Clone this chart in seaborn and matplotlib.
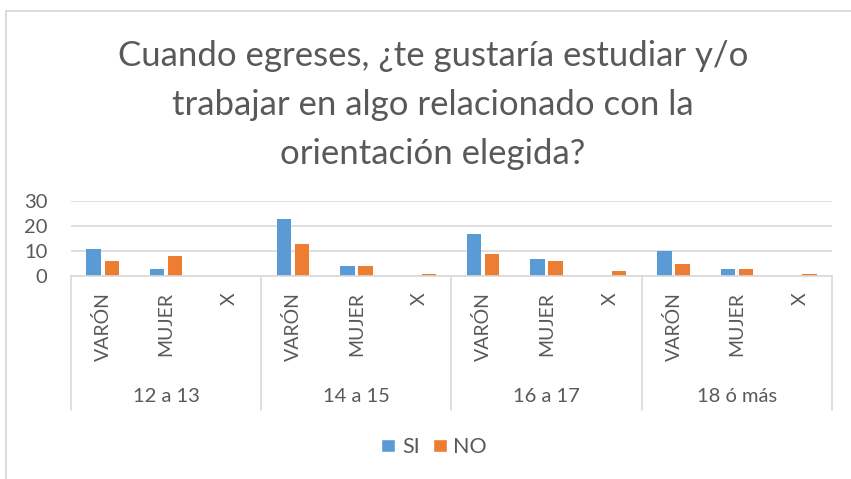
import pandas as pd
import matplotlib.pyplot as plt
import seaborn as sns
from matplotlib.patches import Rectangle, Patch
from matplotlib.lines import Line2D

# Data
edades = ['12 a 13', '14 a 15', '16 a 17', '18 ó más']
sexos = ['VARÓN', 'MUJER', 'X']
si = [11, 3, 0, 23, 4, 0, 17, 7, 0, 10, 3, 0]
no = [6, 8, 0, 13, 4, 1, 9, 6, 2, 5, 3, 1]
respuestas = ['SI', 'NO']
yticks = [0, 10, 20, 30]
titulo = 'Cuando egreses, ¿te gustaría estudiar y/o\ntrabajar en algo relacionado con la\norientación elegida?'

colors = {'SI': '#5B9BD5', 'NO': '#ED7D31'}
text_color = '#595959'
line_color = '#D9D9D9'

# Long form table
cats = [f'{e}|{s}' for e in edades for s in sexos]
df = pd.concat([
    pd.DataFrame({'cat': cats, 'valor': si, 'resp': 'SI'}),
    pd.DataFrame({'cat': cats, 'valor': no, 'resp': 'NO'}),
])

sns.set_theme(style='white')
plt.rcParams['font.family'] = ['Lato', 'DejaVu Sans']

W, H = 851, 479
fig = plt.figure(figsize=(W / 100, H / 100), dpi=100)

# chart border (only left and top visible)
fig.add_artist(Rectangle((6 / W, -0.1), 1.2, 1.1 - 11 / H, transform=fig.transFigure,
                         fill=False, edgecolor=line_color, lw=1.3))

ax = fig.add_axes([71 / W, 1 - 276 / H, 761 / W, 75 / H])
sns.barplot(data=df, x='cat', y='valor', hue='resp', order=cats, hue_order=respuestas,
            palette=colors, width=0.57, gap=0.2, saturation=1, legend=False,
            linewidth=0, ax=ax)

ax.set_xlim(-0.5, len(cats) - 0.5)
ax.set_ylim(0, 30)
ax.set_yticks(yticks)
ax.set_yticklabels([str(t) for t in yticks], fontsize=14.5, color=text_color)
ax.tick_params(axis='y', length=0, pad=17)
ax.set_xticks([])
ax.set_xlabel('')
ax.set_ylabel('')
for s in ax.spines.values():
    s.set_visible(False)
ax.yaxis.grid(True, color=line_color, lw=1.2)
ax.set_axisbelow(True)

# multi-level category axis
tr = ax.get_xaxis_transform()
bottom = (276 - 410) / 75
ax.add_line(Line2D([-0.5, len(cats) - 0.5], [0, 0], transform=tr, color=line_color,
                   lw=1.2, clip_on=False))
for g in range(len(edades) + 1):
    x = g * len(sexos) - 0.5
    ax.add_line(Line2D([x, x], [0, bottom], transform=tr, color=line_color, lw=1.2,
                       clip_on=False))
for i, c in enumerate(cats):
    ax.text(i, (276 - 292) / 75, c.split('|')[1], transform=tr, rotation=90,
            ha='center', va='top', fontsize=14, color=text_color)
for g, e in enumerate(edades):
    ax.text(g * len(sexos) + 1, (276 - 397) / 75, e, transform=tr, ha='center',
            va='center', fontsize=14.5, color=text_color)

# title
fig.text(433 / W, 1 - 105 / H, titulo, ha='center', va='center', fontsize=25,
         color=text_color, linespacing=1.65)

# legend
handles = [Patch(facecolor=colors[r], label=r) for r in respuestas]
fig.legend(handles=handles, loc='center', bbox_to_anchor=(434 / W, 1 - 447 / H), ncol=2,
           frameon=False, handlelength=0.65, handleheight=0.6, handletextpad=0.3,
           columnspacing=0.6, fontsize=15.5, labelcolor=text_color)

fig.savefig('out.png', dpi=100)
